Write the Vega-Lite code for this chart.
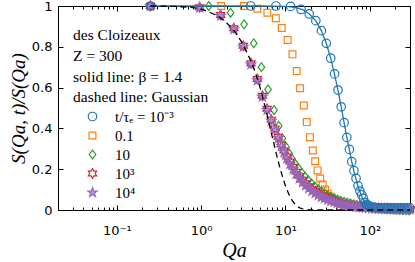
{
"$schema":"https://vega.github.io/schema/vega-lite/v6.json",
"width":352,"height":204,
"autosize":{"type":"none"},
"padding":{"left":58,"top":6,"right":5,"bottom":52},
"config":{
 "view":{"stroke":"#000","strokeWidth":1},
 "axis":{"domainColor":"#000","tickColor":"#000","labelColor":"#000","titleColor":"#000","labelFont":"DejaVu Sans","labelFontSize":13,"grid":false,"tickWidth":1,"domainWidth":1}
},
"datasets":{
"pts":[
{"k":"0.1","q":0.25,"s":1},{"k":"0.1","q":1.73,"s":1},{"k":"0.1","q":3.21,"s":1},{"k":"0.1","q":4.64,"s":0.987},{"k":"0.1","q":6.1,"s":0.967},{"k":"0.1","q":7.67,"s":0.94},{"k":"0.1","q":9.03,"s":0.892},{"k":"0.1","q":10.6,"s":0.833},{"k":"0.1","q":12.1,"s":0.763},{"k":"0.1","q":13.6,"s":0.681},{"k":"0.1","q":14.9,"s":0.597},{"k":"0.1","q":16.5,"s":0.512},{"k":"0.1","q":17.9,"s":0.431},{"k":"0.1","q":19.5,"s":0.357},{"k":"0.1","q":21.1,"s":0.292},{"k":"0.1","q":22.5,"s":0.239},{"k":"0.1","q":24,"s":0.194},{"k":"0.1","q":25.8,"s":0.154},{"k":"0.1","q":27.6,"s":0.125},{"k":"0.1","q":29.4,"s":0.1},{"k":"0.1","q":31.6,"s":0.08},{"k":"0.1","q":33.5,"s":0.066},{"k":"0.1","q":35.6,"s":0.056},{"k":"0.1","q":38,"s":0.048},{"k":"0.1","q":40.7,"s":0.041},{"k":"0.1","q":43.6,"s":0.035},{"k":"0.1","q":47,"s":0.03},{"k":"0.1","q":51,"s":0.026},{"k":"0.1","q":55.5,"s":0.022},{"k":"0.1","q":60.5,"s":0.019},{"k":"0.1","q":66,"s":0.016},{"k":"0.1","q":72,"s":0.014},{"k":"0.1","q":79,"s":0.012},{"k":"0.1","q":87,"s":0.011},{"k":"0.1","q":96,"s":0.01},{"k":"0.1","q":106,"s":0.009},{"k":"0.1","q":117,"s":0.008},{"k":"0.1","q":129,"s":0.007},{"k":"0.1","q":142,"s":0.006},{"k":"0.1","q":156,"s":0.006},{"k":"0.1","q":172,"s":0.005},{"k":"0.1","q":190,"s":0.005},{"k":"0.1","q":209,"s":0.004},{"k":"0.1","q":230,"s":0.004},{"k":"0.1","q":253,"s":0.003},{"k":"0.1","q":278,"s":0.003},{"k":"0.1","q":300,"s":0.003},
{"k":"10","q":0.25,"s":1},{"k":"10","q":1.23,"s":1},{"k":"10","q":2.23,"s":0.967},{"k":"10","q":3.23,"s":0.91},{"k":"10","q":4.2,"s":0.817},{"k":"10","q":5.18,"s":0.7},{"k":"10","q":6.21,"s":0.591},{"k":"10","q":7.32,"s":0.49},{"k":"10","q":8.32,"s":0.412},{"k":"10","q":9.2,"s":0.351},{"k":"10","q":10.1,"s":0.31},{"k":"10","q":11,"s":0.278},{"k":"10","q":12,"s":0.25},{"k":"10","q":13.1,"s":0.225},{"k":"10","q":14.3,"s":0.203},{"k":"10","q":15.6,"s":0.183},{"k":"10","q":17.1,"s":0.163},{"k":"10","q":18.6,"s":0.146},{"k":"10","q":20.4,"s":0.13},{"k":"10","q":22.3,"s":0.115},{"k":"10","q":24.4,"s":0.102},{"k":"10","q":26.6,"s":0.091},{"k":"10","q":29.1,"s":0.081},{"k":"10","q":31.8,"s":0.072},{"k":"10","q":34.7,"s":0.064},{"k":"10","q":37.9,"s":0.057},{"k":"10","q":41.4,"s":0.051},{"k":"10","q":45.3,"s":0.045},{"k":"10","q":49.5,"s":0.04},{"k":"10","q":54.1,"s":0.036},{"k":"10","q":59.1,"s":0.032},{"k":"10","q":64.6,"s":0.028},{"k":"10","q":70.6,"s":0.025},{"k":"10","q":77.2,"s":0.022},{"k":"10","q":84.3,"s":0.019},{"k":"10","q":92.2,"s":0.016},{"k":"10","q":100.7,"s":0.014},{"k":"10","q":110,"s":0.012},{"k":"10","q":120,"s":0.01},{"k":"10","q":131,"s":0.008},{"k":"10","q":144,"s":0.006},{"k":"10","q":157,"s":0.005},{"k":"10","q":172,"s":0.004},{"k":"10","q":188,"s":0.003},{"k":"10","q":205,"s":0.002},{"k":"10","q":224,"s":0.001},{"k":"10","q":245,"s":0},{"k":"10","q":268,"s":-0.001},{"k":"10","q":293,"s":-0.002},
{"k":"1e3","q":0.25,"s":1},{"k":"1e3","q":0.96,"s":0.994},{"k":"1e3","q":1.7,"s":0.956},{"k":"1e3","q":2.44,"s":0.891},{"k":"1e3","q":3.16,"s":0.805},{"k":"1e3","q":3.9,"s":0.719},{"k":"1e3","q":4.64,"s":0.642},{"k":"1e3","q":5.32,"s":0.56},{"k":"1e3","q":6.05,"s":0.496},{"k":"1e3","q":6.78,"s":0.443},{"k":"1e3","q":7.5,"s":0.4},{"k":"1e3","q":8.2,"s":0.359},{"k":"1e3","q":8.9,"s":0.322},{"k":"1e3","q":9.62,"s":0.292},{"k":"1e3","q":10.4,"s":0.262},{"k":"1e3","q":11.3,"s":0.238},{"k":"1e3","q":12.3,"s":0.212},{"k":"1e3","q":13.4,"s":0.188},{"k":"1e3","q":14.6,"s":0.166},{"k":"1e3","q":15.9,"s":0.148},{"k":"1e3","q":17.3,"s":0.131},{"k":"1e3","q":18.9,"s":0.116},{"k":"1e3","q":20.6,"s":0.103},{"k":"1e3","q":22.5,"s":0.092},{"k":"1e3","q":24.5,"s":0.082},{"k":"1e3","q":26.7,"s":0.073},{"k":"1e3","q":29.1,"s":0.065},{"k":"1e3","q":31.7,"s":0.058},{"k":"1e3","q":34.6,"s":0.051},{"k":"1e3","q":37.7,"s":0.045},{"k":"1e3","q":41.1,"s":0.04},{"k":"1e3","q":44.8,"s":0.035},{"k":"1e3","q":48.8,"s":0.031},{"k":"1e3","q":53.2,"s":0.027},{"k":"1e3","q":58,"s":0.024},{"k":"1e3","q":63.2,"s":0.021},{"k":"1e3","q":68.9,"s":0.019},{"k":"1e3","q":75.1,"s":0.017},{"k":"1e3","q":81.9,"s":0.015},{"k":"1e3","q":89.3,"s":0.013},{"k":"1e3","q":97.3,"s":0.012},{"k":"1e3","q":106,"s":0.011},{"k":"1e3","q":116,"s":0.01},{"k":"1e3","q":126,"s":0.009},{"k":"1e3","q":137,"s":0.008},{"k":"1e3","q":150,"s":0.007},{"k":"1e3","q":163,"s":0.007},{"k":"1e3","q":178,"s":0.006},{"k":"1e3","q":194,"s":0.006},{"k":"1e3","q":211,"s":0.005},{"k":"1e3","q":230,"s":0.005},{"k":"1e3","q":251,"s":0.005},{"k":"1e3","q":274,"s":0.004},{"k":"1e3","q":298,"s":0.004},
{"k":"1e4","q":0.25,"s":1},{"k":"1e4","q":0.96,"s":0.992},{"k":"1e4","q":1.7,"s":0.952},{"k":"1e4","q":2.44,"s":0.886},{"k":"1e4","q":3.16,"s":0.8},{"k":"1e4","q":3.9,"s":0.714},{"k":"1e4","q":4.64,"s":0.636},{"k":"1e4","q":5.32,"s":0.555},{"k":"1e4","q":6.05,"s":0.49},{"k":"1e4","q":6.78,"s":0.437},{"k":"1e4","q":7.5,"s":0.393},{"k":"1e4","q":8.2,"s":0.352},{"k":"1e4","q":8.9,"s":0.315},{"k":"1e4","q":9.62,"s":0.284},{"k":"1e4","q":10.4,"s":0.252},{"k":"1e4","q":11.3,"s":0.226},{"k":"1e4","q":12.3,"s":0.2},{"k":"1e4","q":13.4,"s":0.176},{"k":"1e4","q":14.6,"s":0.154},{"k":"1e4","q":15.9,"s":0.136},{"k":"1e4","q":17.3,"s":0.12},{"k":"1e4","q":18.9,"s":0.106},{"k":"1e4","q":20.6,"s":0.093},{"k":"1e4","q":22.5,"s":0.082},{"k":"1e4","q":24.5,"s":0.073},{"k":"1e4","q":26.7,"s":0.064},{"k":"1e4","q":29.1,"s":0.057},{"k":"1e4","q":31.7,"s":0.05},{"k":"1e4","q":34.6,"s":0.044},{"k":"1e4","q":37.7,"s":0.039},{"k":"1e4","q":41.1,"s":0.034},{"k":"1e4","q":44.8,"s":0.03},{"k":"1e4","q":48.8,"s":0.026},{"k":"1e4","q":53.2,"s":0.023},{"k":"1e4","q":58,"s":0.02},{"k":"1e4","q":63.2,"s":0.018},{"k":"1e4","q":68.9,"s":0.016},{"k":"1e4","q":75.1,"s":0.014},{"k":"1e4","q":81.9,"s":0.012},{"k":"1e4","q":89.3,"s":0.011},{"k":"1e4","q":97.3,"s":0.01},{"k":"1e4","q":106,"s":0.009},{"k":"1e4","q":116,"s":0.008},{"k":"1e4","q":126,"s":0.007},{"k":"1e4","q":137,"s":0.007},{"k":"1e4","q":150,"s":0.006},{"k":"1e4","q":163,"s":0.006},{"k":"1e4","q":178,"s":0.005},{"k":"1e4","q":194,"s":0.005},{"k":"1e4","q":211,"s":0.004},{"k":"1e4","q":230,"s":0.004},{"k":"1e4","q":251,"s":0.004},{"k":"1e4","q":274,"s":0.003},{"k":"1e4","q":298,"s":0.003},
{"k":"1e-3","q":0.25,"s":1},{"k":"1e-3","q":3.86,"s":1},{"k":"1e-3","q":7.7,"s":1},{"k":"1e-3","q":11.5,"s":0.998},{"k":"1e-3","q":15.3,"s":0.983},{"k":"1e-3","q":19.1,"s":0.961},{"k":"1e-3","q":22.9,"s":0.928},{"k":"1e-3","q":26.7,"s":0.879},{"k":"1e-3","q":30.5,"s":0.817},{"k":"1e-3","q":34.4,"s":0.744},{"k":"1e-3","q":38.2,"s":0.667},{"k":"1e-3","q":42,"s":0.588},{"k":"1e-3","q":45.8,"s":0.506},{"k":"1e-3","q":49.6,"s":0.428},{"k":"1e-3","q":53.4,"s":0.356},{"k":"1e-3","q":57.3,"s":0.297},{"k":"1e-3","q":61.1,"s":0.237},{"k":"1e-3","q":64.9,"s":0.193},{"k":"1e-3","q":68.7,"s":0.155},{"k":"1e-3","q":72.5,"s":0.118},{"k":"1e-3","q":76.4,"s":0.093},{"k":"1e-3","q":80.2,"s":0.074},{"k":"1e-3","q":84,"s":0.057},{"k":"1e-3","q":87.8,"s":0.036},{"k":"1e-3","q":91.6,"s":0.028},{"k":"1e-3","q":95.4,"s":0.022},{"k":"1e-3","q":99.2,"s":0.018},{"k":"1e-3","q":107,"s":0.014},{"k":"1e-3","q":115,"s":0.012},{"k":"1e-3","q":126,"s":0.011},{"k":"1e-3","q":137,"s":0.01},{"k":"1e-3","q":149,"s":0.01},{"k":"1e-3","q":164,"s":0.01},{"k":"1e-3","q":179,"s":0.01},{"k":"1e-3","q":195,"s":0.01},{"k":"1e-3","q":214,"s":0.01},{"k":"1e-3","q":233,"s":0.01},{"k":"1e-3","q":256,"s":0.01},{"k":"1e-3","q":279,"s":0.01},{"k":"1e-3","q":300,"s":0.01}
],
"fit":[
{"q":0.25,"s":1},{"q":5,"s":1},{"q":10,"s":0.998},{"q":13,"s":0.993},{"q":16,"s":0.982},{"q":19.1,"s":0.962},{"q":22.9,"s":0.927},{"q":26.7,"s":0.878},{"q":30.5,"s":0.816},{"q":34.4,"s":0.743},{"q":38.2,"s":0.665},{"q":42,"s":0.585},{"q":45.8,"s":0.505},{"q":49.6,"s":0.428},{"q":53.4,"s":0.357},{"q":57.3,"s":0.293},{"q":61.1,"s":0.237},{"q":64.9,"s":0.19},{"q":68.7,"s":0.15},{"q":72.5,"s":0.116},{"q":76.4,"s":0.089},{"q":80.2,"s":0.067},{"q":84,"s":0.05},{"q":88,"s":0.036},{"q":92,"s":0.026},{"q":96,"s":0.018},{"q":100,"s":0.012},{"q":110,"s":0.005},{"q":120,"s":0.002},{"q":140,"s":0},{"q":300,"s":0}
],
"gauss":[
{"q":0.25,"s":1},{"q":0.5,"s":0.998},{"q":0.8,"s":0.992},{"q":1,"s":0.985},{"q":1.3,"s":0.967},{"q":1.6,"s":0.95},{"q":2,"s":0.918},{"q":2.5,"s":0.875},{"q":3,"s":0.825},{"q":3.5,"s":0.77},{"q":4,"s":0.72},{"q":4.5,"s":0.66},{"q":5,"s":0.6},{"q":5.5,"s":0.535},{"q":6,"s":0.473},{"q":6.5,"s":0.412},{"q":7,"s":0.355},{"q":7.5,"s":0.303},{"q":8,"s":0.256},{"q":8.5,"s":0.214},{"q":9,"s":0.178},{"q":9.5,"s":0.146},{"q":10,"s":0.118},{"q":11,"s":0.076},{"q":12,"s":0.047},{"q":13,"s":0.028},{"q":14,"s":0.016},{"q":15,"s":0.009},{"q":16,"s":0.005},{"q":18,"s":0.001},{"q":20,"s":0},{"q":300,"s":0}
],
"notes":[
{"q":0.0302,"s":0.833,"t":"des Cloizeaux"},
{"q":0.0302,"s":0.73,"t":"Z = 300"},
{"q":0.0302,"s":0.629,"t":"solid line: β = 1.4"},
{"q":0.0302,"s":0.531,"t":"dashed line: Gaussian"}
]
},
"layer":[
{
 "data":{"name":"pts"},
 "mark":{"type":"point","filled":true,"strokeWidth":1.2,"opacity":1,"size":100},
 "encoding":{
  "x":{"field":"q","type":"quantitative","scale":{"type":"log","domain":[0.02,300],"nice":false},
   "axis":{"orient":"bottom","values":[0.1,1,10,100],"tickSize":-5,"labelPadding":19,"labelExpr":"datum.value < 0.5 ? '10⁻¹' : datum.value < 5 ? '10⁰' : datum.value < 50 ? '10¹' : '10²'","labelFlush":false,"title":"Qa","titleFont":"Liberation Serif","titleFontStyle":"italic","titleFontWeight":"normal","titleFontSize":20,"titleX":176,"titleY":40,"titleBaseline":"middle","titleAlign":"center"}},
  "y":{"field":"s","type":"quantitative","scale":{"domain":[0,1],"nice":false,"zero":false},
   "axis":{"orient":"left","values":[0,0.2,0.4,0.6,0.8,1],"format":"~g","tickSize":-5,"labelPadding":11,"title":"S(Qa, t)/S(Qa)","titleFont":"Liberation Serif","titleFontStyle":"italic","titleFontWeight":"normal","titleFontSize":19,"titleX":-40,"titleY":102,"titleAngle":-90,"titleAlign":"center","titleBaseline":"middle"}},
  "stroke":{"field":"k","type":"nominal","scale":{"domain":["1e-3","0.1","10","1e3","1e4"],"range":["#1f77b4","#ff7f0e","#2ca02c","#d62728","#9467bd"]},
   "legend":{"orient":"none","legendX":27,"legendY":103,"title":null,"padding":0,"labelFont":"Liberation Serif","labelFontSize":15,"labelColor":"#000","labelOffset":15,"rowPadding":3,"symbolSize":100,"symbolStrokeWidth":1.2,"labelExpr":"datum.value == '1e-3' ? 't/τₑ = 10⁻³' : datum.value == '1e3' ? '10³' : datum.value == '1e4' ? '10⁴' : datum.value"}},
  "fill":{"field":"k","type":"nominal","scale":{"domain":["1e-3","0.1","10","1e3","1e4"],"range":["transparent","transparent","transparent","transparent","rgba(148,103,189,0.7)"]}},
  "shape":{"field":"k","type":"nominal","scale":{"domain":["1e-3","0.1","10","1e3","1e4"],"range":["M-0.85,0A0.85,0.85,0,1,1,0.85,0A0.85,0.85,0,1,1,-0.85,0Z","M-0.68,-0.68L0.68,-0.68L0.68,0.68L-0.68,0.68Z","M0,-0.88L0.66,0L0,0.88L-0.66,0Z","M0,-0.95L0.274,-0.475L0.823,-0.475L0.548,0L0.823,0.475L0.274,0.475L0,0.95L-0.274,0.475L-0.823,0.475L-0.548,0L-0.823,-0.475L-0.274,-0.475Z","M0,-1L0.235,-0.324L0.951,-0.309L0.38,0.124L0.588,0.809L0,0.4L-0.588,0.809L-0.38,0.124L-0.951,-0.309L-0.235,-0.324Z"]}}
 }
},
{
 "data":{"name":"fit"},
 "mark":{"type":"line","color":"#1f77b4","strokeWidth":1.3},
 "encoding":{
  "x":{"field":"q","type":"quantitative","axis":{"orient":"bottom","values":[0.02,0.03,0.04,0.05,0.06,0.07,0.08,0.09,0.2,0.3,0.4,0.5,0.6,0.7,0.8,0.9,2,3,4,5,6,7,8,9,20,30,40,50,60,70,80,90,200,300],"labels":false,"tickSize":-3,"title":null}},
  "y":{"field":"s","type":"quantitative","axis":{"orient":"right","values":[0,0.2,0.4,0.6,0.8,1],"labels":false,"tickSize":-5,"title":null}}
 }
},
{
 "data":{"name":"gauss"},
 "mark":{"type":"line","color":"#000","strokeWidth":1.3,"strokeDash":[6,4]},
 "encoding":{
  "x":{"field":"q","type":"quantitative","axis":{"orient":"top","values":[0.1,1,10,100],"labels":false,"tickSize":-5,"title":null}},
  "y":{"field":"s","type":"quantitative","axis":null}
 }
},
{
 "data":{"name":"notes"},
 "mark":{"type":"text","align":"left","baseline":"alphabetic","font":"Liberation Serif","fontSize":15.5,"color":"#000"},
 "encoding":{
  "x":{"field":"q","type":"quantitative","axis":{"orient":"top","values":[0.02,0.03,0.04,0.05,0.06,0.07,0.08,0.09,0.2,0.3,0.4,0.5,0.6,0.7,0.8,0.9,2,3,4,5,6,7,8,9,20,30,40,50,60,70,80,90,200,300],"labels":false,"tickSize":-3,"title":null}},
  "y":{"field":"s","type":"quantitative","axis":null},
  "text":{"field":"t"}
 }
}
],
"resolve":{"axis":{"x":"independent","y":"independent"}}
}
